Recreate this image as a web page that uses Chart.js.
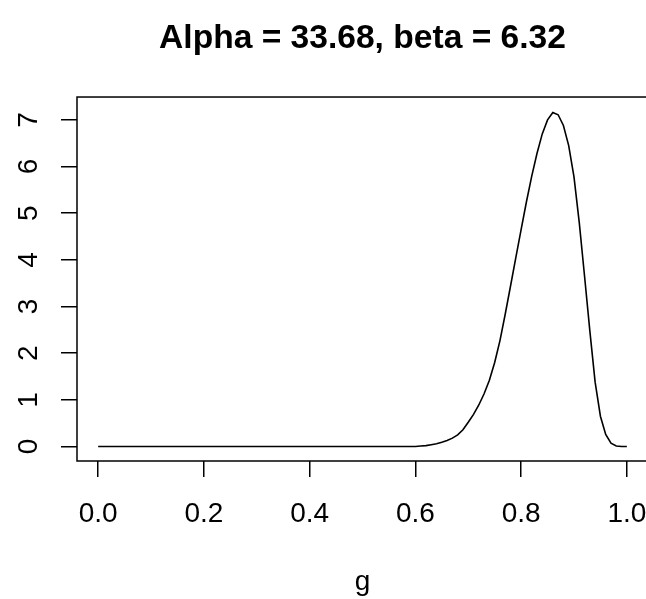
<!DOCTYPE html>
<html>
<head>
<meta charset="utf-8">
<script src="https://cdn.jsdelivr.net/npm/chart.js@4"></script>
<style>
html, body { margin: 0; padding: 0; background: #fff; overflow: hidden; }
#wrap { width: 646px; height: 599px; overflow: hidden; }
#box { width: 680px; height: 599px; }
</style>
</head>
<body>
<div id="wrap"><div id="box"><canvas id="c"></canvas></div></div>
<script>
// values
const gValues = [0.00, 0.10, 0.20, 0.30, 0.40, 0.50, 0.55,
	0.60, 0.61, 0.62, 0.63, 0.64, 0.65, 0.66, 0.67, 0.68, 0.69,
	0.70, 0.71, 0.72, 0.73, 0.74, 0.75, 0.76, 0.77, 0.78, 0.79,
	0.80, 0.81, 0.82, 0.83, 0.84, 0.85, 0.86, 0.87, 0.88, 0.89,
	0.90, 0.91, 0.92, 0.93, 0.94, 0.95, 0.96, 0.97, 0.98, 0.99, 1.00]
const density = [0, 0, 0, 0, 0, 0, 0,
	0.00, 0.01, 0.02, 0.04, 0.06, 0.09, 0.13, 0.18, 0.25, 0.36,
	0.52, 0.69, 0.89, 1.13, 1.42, 1.80, 2.27, 2.84, 3.44, 4.05,
	4.65, 5.24, 5.79, 6.28, 6.70, 7.00, 7.16, 7.11, 6.88, 6.45,
	5.78, 4.80, 3.65, 2.48, 1.38, 0.65, 0.26, 0.07, 0.01, 0.00, 0.00]

const xTicks = [0, 0.2, 0.4, 0.6, 0.8, 1.0]
const xTickLabels = ['0.0', '0.2', '0.4', '0.6', '0.8', '1.0']
const yTicks = [0, 1, 2, 3, 4, 5, 6, 7]
const yTickLabels = ['0', '1', '2', '3', '4', '5', '6', '7']

const FONT = "'Liberation Sans', Arial, sans-serif"

// R style box around the plot region
const plotBox = {
	id: 'plotBox',
	afterDraw(chart) {
		const { ctx, chartArea: a } = chart
		ctx.save()
		ctx.strokeStyle = '#000'
		ctx.lineWidth = 1.5
		ctx.strokeRect(a.left, a.top, a.right - a.left, a.bottom - a.top)
		ctx.restore()
	}
}

// y tick labels, rotated like R's las = 0
const yLabels = {
	id: 'yLabels',
	afterDraw(chart) {
		const ctx = chart.ctx
		const ys = chart.scales.y
		ctx.save()
		ctx.fillStyle = '#000'
		ctx.font = '28px ' + FONT
		ctx.textAlign = 'center'
		ctx.textBaseline = 'alphabetic'
		yTicks.forEach((v, i) => {
			ctx.save()
			ctx.translate(ys.left + 36.5, ys.getPixelForValue(v))
			ctx.rotate(-Math.PI / 2)
			ctx.fillText(yTickLabels[i], 0, 0)
			ctx.restore()
		})
		ctx.restore()
	}
}

new Chart(document.getElementById('c'), {
	type: 'line',
	data: {
		datasets: [{
			data: gValues.map((g, i) => ({ x: g, y: density[i] })),
			borderColor: '#000',
			borderWidth: 1.6,
			pointRadius: 0,
			tension: 0,
			fill: false
		}]
	},
	options: {
		animation: false,
		responsive: true,
		maintainAspectRatio: false,
		layout: { padding: { top: 0, left: 0, right: 32, bottom: 0 } },
		plugins: {
			legend: { display: false },
			tooltip: { enabled: false },
			title: {
				display: true,
				fullSize: false,
				text: 'Alpha = 33.68, beta = 6.32',
				color: '#000',
				font: { family: FONT, size: 33.6, weight: 'bold' },
				padding: { top: 19, bottom: 37.7 }
			}
		},
		scales: {
			x: {
				type: 'linear',
				min: -0.04,
				max: 1.04,
				afterBuildTicks: s => { s.ticks = xTicks.map(v => ({ value: v })) },
				afterFit: s => { s.height = 138 },
				border: { display: false },
				grid: { drawOnChartArea: false, drawTicks: true, tickLength: 16, color: '#000', lineWidth: 1.5 },
				ticks: {
					color: '#000',
					font: { family: FONT, size: 28 },
					padding: 20,
					maxRotation: 0,
					callback: (v) => xTickLabels[xTicks.indexOf(v)]
				},
				title: {
					display: true,
					text: 'g',
					color: '#000',
					font: { family: FONT, size: 28 },
					padding: { top: 0, bottom: 0 }
				}
			},
			y: {
				min: -0.31,
				max: 7.49,
				afterBuildTicks: s => { s.ticks = yTicks.map(v => ({ value: v })) },
				afterFit: s => { s.width = 77 },
				border: { display: false },
				grid: { drawOnChartArea: false, drawTicks: true, tickLength: 16, color: '#000', lineWidth: 1.5 },
				ticks: { display: false }
			}
		}
	},
	plugins: [plotBox, yLabels]
})
</script>
</body>
</html>
